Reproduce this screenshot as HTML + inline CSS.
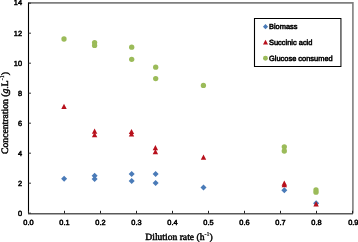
<!DOCTYPE html>
<html><head><meta charset="utf-8"><style>
html,body{margin:0;padding:0;background:#fff;}
svg{display:block;}
svg{will-change:transform;filter:blur(0.25px);}
text{text-rendering:geometricPrecision;}
.t{font-family:"Liberation Sans",sans-serif;font-size:7.4px;fill:#000;stroke:#000;stroke-width:0.5px;}
.l{font-family:"Liberation Sans",sans-serif;font-size:7.45px;fill:#000;stroke:#000;stroke-width:0.5px;}
.a{font-family:"Liberation Serif",serif;font-size:9.6px;fill:#000;stroke:#000;stroke-width:0.45px;}
</style></head><body>
<svg width="358" height="242" viewBox="0 0 358 242">
<rect width="358" height="242" fill="#fff"/>
<path d="M28.5 2.9H352.9V213.5" fill="none" stroke="#7f7f7f" stroke-width="1.6"/>
<path d="M28.5 2.5V213.6" fill="none" stroke="#000" stroke-width="1.1"/>
<path d="M28 213.75H352.9" fill="none" stroke="#5a5a5a" stroke-width="1.5"/>
<path d="M28.5 213.2H31" stroke="#333" stroke-width="1"/>
<text x="22" y="215.75" text-anchor="end" class="t">0</text>
<path d="M28.5 183.2H31" stroke="#333" stroke-width="1"/>
<text x="22" y="185.75" text-anchor="end" class="t">2</text>
<path d="M28.5 153.2H31" stroke="#333" stroke-width="1"/>
<text x="22" y="155.75" text-anchor="end" class="t">4</text>
<path d="M28.5 123.2H31" stroke="#333" stroke-width="1"/>
<text x="22" y="125.75" text-anchor="end" class="t">6</text>
<path d="M28.5 93.2H31" stroke="#333" stroke-width="1"/>
<text x="22" y="95.75" text-anchor="end" class="t">8</text>
<path d="M28.5 63.2H31" stroke="#333" stroke-width="1"/>
<text x="22" y="65.75" text-anchor="end" class="t">10</text>
<path d="M28.5 33.2H31" stroke="#333" stroke-width="1"/>
<text x="22" y="35.75" text-anchor="end" class="t">12</text>
<path d="M28.5 3.2H31" stroke="#333" stroke-width="1"/>
<text x="22" y="5.15" text-anchor="end" class="t">14</text>
<path d="M28.5 213.5V210.8" stroke="#222" stroke-width="1"/>
<text x="28.5" y="225.2" text-anchor="middle" class="t">0.0</text>
<path d="M64.5 213.5V210.8" stroke="#222" stroke-width="1"/>
<text x="64.5" y="225.2" text-anchor="middle" class="t">0.1</text>
<path d="M100.5 213.5V210.8" stroke="#222" stroke-width="1"/>
<text x="100.5" y="225.2" text-anchor="middle" class="t">0.2</text>
<path d="M136.5 213.5V210.8" stroke="#222" stroke-width="1"/>
<text x="136.5" y="225.2" text-anchor="middle" class="t">0.3</text>
<path d="M172.5 213.5V210.8" stroke="#222" stroke-width="1"/>
<text x="172.5" y="225.2" text-anchor="middle" class="t">0.4</text>
<path d="M208.5 213.5V210.8" stroke="#222" stroke-width="1"/>
<text x="208.5" y="225.2" text-anchor="middle" class="t">0.5</text>
<path d="M244.5 213.5V210.8" stroke="#222" stroke-width="1"/>
<text x="244.5" y="225.2" text-anchor="middle" class="t">0.6</text>
<path d="M280.5 213.5V210.8" stroke="#222" stroke-width="1"/>
<text x="280.5" y="225.2" text-anchor="middle" class="t">0.7</text>
<path d="M316.5 213.5V210.8" stroke="#222" stroke-width="1"/>
<text x="316.5" y="225.2" text-anchor="middle" class="t">0.8</text>
<path d="M352.5 213.5V210.8" stroke="#222" stroke-width="1"/>
<text x="353.3" y="225.2" text-anchor="middle" class="t">0.9</text>
<path d="M64.1 175.7L67.1 178.7L64.1 181.7L61.099999999999994 178.7Z" fill="#4A7BB8"/>
<path d="M94.6 172.8L97.6 175.8L94.6 178.8L91.6 175.8Z" fill="#4A7BB8"/>
<path d="M94.6 176.0L97.6 179L94.6 182.0L91.6 179Z" fill="#4A7BB8"/>
<path d="M131.7 170.9L134.7 173.9L131.7 176.9L128.7 173.9Z" fill="#4A7BB8"/>
<path d="M131.7 177.9L134.7 180.9L131.7 183.9L128.7 180.9Z" fill="#4A7BB8"/>
<path d="M155.6 170.9L158.6 173.9L155.6 176.9L152.6 173.9Z" fill="#4A7BB8"/>
<path d="M155.6 180.1L158.6 183.1L155.6 186.1L152.6 183.1Z" fill="#4A7BB8"/>
<path d="M203.5 184.4L206.5 187.4L203.5 190.4L200.5 187.4Z" fill="#4A7BB8"/>
<path d="M284.3 187.2L287.3 190.2L284.3 193.2L281.3 190.2Z" fill="#4A7BB8"/>
<path d="M316.1 200.2L319.1 203.2L316.1 206.2L313.1 203.2Z" fill="#4A7BB8"/>
<path d="M64 103.7L66.7 108.89999999999999L61.3 108.89999999999999Z" fill="#B8101C"/>
<path d="M94.6 128.6L97.3 133.79999999999998L91.89999999999999 133.79999999999998Z" fill="#B8101C"/>
<path d="M94.6 132.1L97.3 137.29999999999998L91.89999999999999 137.29999999999998Z" fill="#B8101C"/>
<path d="M131.5 128.9L134.2 134.1L128.8 134.1Z" fill="#B8101C"/>
<path d="M131.5 131.4L134.2 136.6L128.8 136.6Z" fill="#B8101C"/>
<path d="M155.4 145.1L158.1 150.29999999999998L152.70000000000002 150.29999999999998Z" fill="#B8101C"/>
<path d="M155.4 149.0L158.1 154.2L152.70000000000002 154.2Z" fill="#B8101C"/>
<path d="M203.5 154.6L206.2 159.79999999999998L200.8 159.79999999999998Z" fill="#B8101C"/>
<path d="M284.3 180.6L287.0 185.79999999999998L281.6 185.79999999999998Z" fill="#B8101C"/>
<path d="M284.3 182.0L287.0 187.2L281.6 187.2Z" fill="#B8101C"/>
<path d="M316.1 201.20000000000002L318.8 206.4L313.40000000000003 206.4Z" fill="#B8101C"/>
<circle cx="64" cy="39" r="2.65" fill="#9BBB59"/>
<circle cx="94.6" cy="42.6" r="2.65" fill="#9BBB59"/>
<circle cx="94.6" cy="45.4" r="2.65" fill="#9BBB59"/>
<circle cx="131.7" cy="47.2" r="2.65" fill="#9BBB59"/>
<circle cx="131.7" cy="59.3" r="2.65" fill="#9BBB59"/>
<circle cx="155.7" cy="67.2" r="2.65" fill="#9BBB59"/>
<circle cx="155.7" cy="78.6" r="2.65" fill="#9BBB59"/>
<circle cx="203.4" cy="85.4" r="2.65" fill="#9BBB59"/>
<circle cx="284.3" cy="146.8" r="2.65" fill="#9BBB59"/>
<circle cx="284.3" cy="151" r="2.65" fill="#9BBB59"/>
<circle cx="316" cy="190" r="2.65" fill="#9BBB59"/>
<circle cx="316" cy="192.2" r="2.65" fill="#9BBB59"/>
<rect x="254.5" y="18.5" width="86" height="48" fill="#fff"/>
<path d="M340.9 18V67" fill="none" stroke="#6a6a6a" stroke-width="1.7"/>
<path d="M341 18.5H254.5V66.5H341" fill="none" stroke="#000" stroke-width="1.1"/>
<path d="M265.5 24.099999999999998L268.1 26.7L265.5 29.3L262.9 26.7Z" fill="#4A7BB8"/>
<path d="M265.5 39.8L268 44.6L263 44.6Z" fill="#B8101C"/>
<circle cx="265.45" cy="58.3" r="2.45" fill="#9BBB59"/>
<text x="269" y="29.4" class="l">Biomass</text>
<text x="269" y="45.4" class="l">Succinic acid</text>
<text x="269" y="61" class="l">Glucose consumed</text>
<text x="145.3" y="239.6" class="a">Dilution rate (h<tspan dy="-3.5" font-size="6" stroke-width="0.2">-1</tspan><tspan dy="3.5">)</tspan></text>
<text transform="translate(7.6 154) rotate(-90)" class="a" style="font-size:9.7px">Concentration (<tspan font-style="italic">g</tspan>.L<tspan dy="-3.5" font-size="6" stroke-width="0.2">-1</tspan><tspan dy="3.5">)</tspan></text>
</svg>
</body></html>
